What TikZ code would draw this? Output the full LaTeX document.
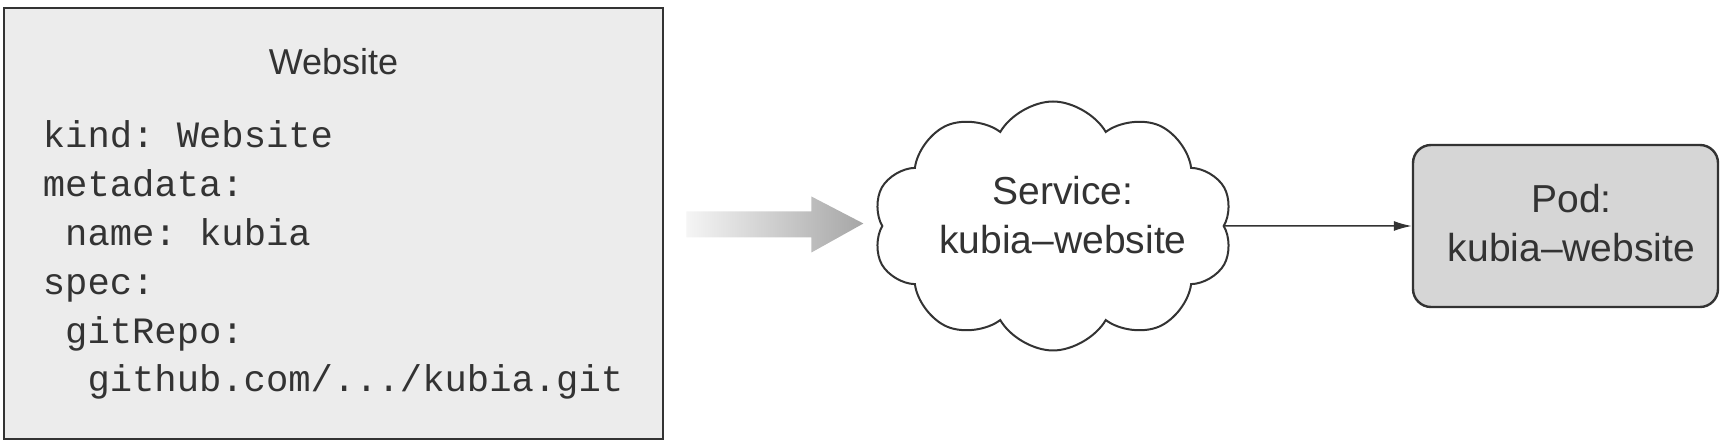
\documentclass[tikz,border=0pt]{standalone}
\usepackage{fontspec}
\setsansfont{Liberation Sans}
\setmonofont{Liberation Mono}
\usepackage{tikz}
\usetikzlibrary{arrows.meta}
\usetikzlibrary{positioning,shapes.symbols}
\definecolor{ink}{HTML}{333333}
\definecolor{sitefill}{HTML}{ECECEC}
\definecolor{podfill}{HTML}{D6D6D6}

\begin{document}
\begin{tikzpicture}[
		x=0.5pt, y=-0.5pt,
		SiteBox/.style={draw=ink,fill=sitefill,line width=1.4pt,minimum width=329.5pt,minimum height=215.5pt},
		PodBox/.style={draw=ink,fill=podfill,line width=1.2pt,rounded corners=9pt,minimum width=152.5pt,minimum height=81pt,inner sep=0pt},
		CloudBox/.style={cloud,cloud puffs=10,cloud puff arc=120,cloud ignores aspect,draw=ink,line width=1pt,minimum width=180pt,minimum height=124.5pt,inner sep=0pt},
		Label/.style={text=ink,font=\fontsize{18pt}{22pt}\selectfont\sffamily},
		BigLabel/.style={text=ink,align=center,font=\fontsize{19.5pt}{24.5pt}\selectfont\sffamily},
		CodeLine/.style={text=ink,anchor=base west,inner sep=0pt,font=\fontsize{18.6pt}{22pt}\selectfont\ttfamily}
		]
		\useasboundingbox (0,0) rectangle (1728,448);
		
		% the Website resource
		\node[SiteBox] (site) at (333.5,223.5) {};
		\node[Label,anchor=base] (siteTitle) at (333.5,75) {Website};
		
		\foreach \lvl/\txt [count=\i from 0] in {0/kind: Website, 0/metadata:, 1/name: kubia, 0/spec:, 1/gitRepo:, 2/{github.com/.../kubia.git}}
		\node[CodeLine] (code\i) at ({42.5+22.3*\lvl},{148+48.8*\i}) {\txt};
		
		% what gets created
		\node[CloudBox] (service) at (1053,226) {};
		\node[BigLabel] (serviceText) at ([xshift=5pt,yshift=5.5pt]service.center) {Service:\\kubia--website};
		
		\node[PodBox] (pod) at (1565.5,226) {};
		\node[BigLabel] (podText) at ([xshift=3pt,yshift=1.5pt]pod.center) {Pod:\\kubia--website};
		
		%\draw[ink] (site.east)--(service.west);
		
		\coordinate (fatTail) at ([xshift=11pt]site.east);
		\coordinate (fatTip) at ([xshift=99.5pt]site.east);
		
		\shade[left color=gray!8, right color=gray!70] (fatTail) ++(0,-12) -- ++(125,0) -- ++(0,-15) -- (fatTip) -- ++(-52,29) -- ++(0,-15) -- ++(-125,0) -- cycle;
		
		\draw[-{Latex[length=9pt, width=5pt]}, ink, line width=0.75pt] (service.east)--(pod.west);
		
	\end{tikzpicture}
\end{document}
